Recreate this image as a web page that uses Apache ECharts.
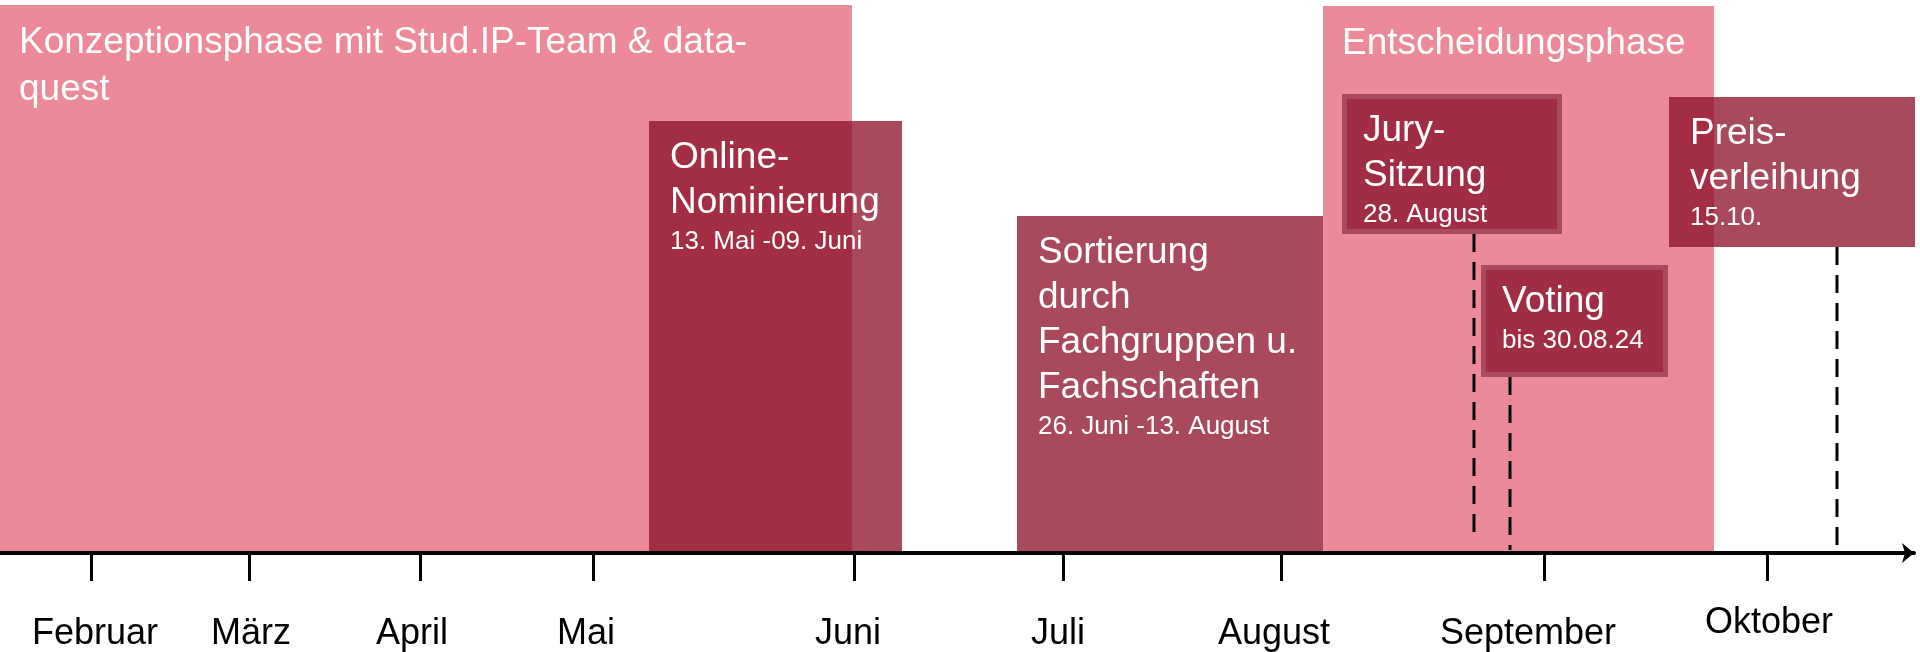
<!DOCTYPE html>
<html>
<head>
<meta charset="utf-8">
<script src="https://cdn.jsdelivr.net/npm/echarts@6/dist/echarts.min.js"></script>
<style>
  html, body { margin: 0; padding: 0; background: #fff; }
  #chart-container { width: 1920px; height: 652px; }
</style>
</head>
<body>
<div id="chart-container"></div>
<script>
// Monate auf der Zeitachse (Position der Striche und der Beschriftung)
var monthNames = ['Februar', 'März', 'April', 'Mai', 'Juni', 'Juli', 'August', 'September', 'Oktober'];
var monthTicks = [91, 249, 420, 593, 854, 1063, 1281, 1544, 1767];
var monthLabelPos = [95, 251, 412, 586, 848, 1058, 1274, 1528, 1769];

// Phasen (hellrosa Hintergrund)
var phaseNames = ['Konzeptionsphase mit Stud.IP-Team & data-\nquest', 'Entscheidungsphase'];
var phaseStart = [0, 1323];
var phaseEnd = [852, 1714];
var phaseTop = [548, 547];

// Einzelne Schritte
var stepTitles = ['Online-\nNominierung', 'Sortierung\ndurch\nFachgruppen u.\nFachschaften', 'Jury-\nSitzung', 'Voting', 'Preis-\nverleihung'];
var stepDates = ['13. Mai -09. Juni', '26. Juni -13. August', '28. August', 'bis 30.08.24', '15.10.'];
var stepStart = [649, 1017, 1342, 1481, 1669];
var stepEnd = [902, 1323, 1562, 1668, 1915];
var stepTop = [432, 337, 459, 288, 456];
var stepBottom = [0, 0, 319, 176, 306];

// gestrichelte Markierungen
var markerPos = [1474, 1510, 1837];
var markerTop = [319, 176, 306];
var markerBottom = [13, 3, 3];

var dom = document.getElementById('chart-container');
var myChart = echarts.init(dom);

var FONT = 'Liberation Sans, Arial, sans-serif';
var PINK = '#ec8a9a';
var STEP_FILL = 'rgba(139, 14, 38, 0.75)';
var framedSteps = [2, 3]; // Jury und Voting haben einen hellen Rahmen

function richLines(title, date) {
  var s = title.split('\n').map(function (l) {
    return '{t|' + l + '}';
  }).join('\n');
  if (date) {
    s += '\n{s|' + date + '}';
  }
  return s;
}

var richStyle = {
  t: { fontSize: 37, lineHeight: 45, fontFamily: FONT, fill: '#fff', color: '#fff' },
  s: { fontSize: 26, lineHeight: 33, fontFamily: FONT, fill: '#fff', color: '#fff' },
  p: { fontSize: 37, lineHeight: 47, fontFamily: FONT, fill: '#fff', color: '#fff' }
};

function renderPhase(params, api) {
  var p0 = api.coord([api.value(0), api.value(2)]);
  var p1 = api.coord([api.value(1), api.value(3)]);
  var i = params.dataIndex;
  var text = phaseNames[i].split('\n').map(function (l) {
    return '{p|' + l + '}';
  }).join('\n');
  return {
    type: 'group',
    children: [
      {
        type: 'rect',
        shape: { x: p0[0], y: p0[1], width: p1[0] - p0[0], height: p1[1] - p0[1] },
        style: { fill: PINK }
      },
      {
        type: 'text',
        x: p0[0] + 19,
        y: p0[1] + 14,
        style: { text: text, rich: richStyle, fill: '#fff', align: 'left', verticalAlign: 'top' }
      }
    ]
  };
}

function renderStep(params, api) {
  var p0 = api.coord([api.value(0), api.value(2)]);
  var p1 = api.coord([api.value(1), api.value(3)]);
  var i = params.dataIndex;
  var w = p1[0] - p0[0];
  var h = p1[1] - p0[1];
  var children = [];
  if (framedSteps.indexOf(i) >= 0) {
    children.push({
      type: 'rect',
      shape: { x: p0[0], y: p0[1], width: w, height: h },
      style: { fill: '#a94a5d' }
    });
    children.push({
      type: 'rect',
      shape: { x: p0[0] + 5, y: p0[1] + 5, width: w - 10, height: h - 10 },
      style: { fill: '#a12d44' }
    });
  } else {
    children.push({
      type: 'rect',
      shape: { x: p0[0], y: p0[1], width: w, height: h },
      style: { fill: STEP_FILL }
    });
  }
  children.push({
    type: 'text',
    x: p0[0] + 21,
    y: p0[1] + 14,
    style: {
      text: richLines(stepTitles[i], stepDates[i]),
      rich: richStyle,
      fill: '#fff',
      align: 'left',
      verticalAlign: 'top'
    }
  });
  return { type: 'group', children: children };
}

function renderMarker(params, api) {
  var a = api.coord([api.value(0), api.value(1)]);
  var b = api.coord([api.value(0), api.value(2)]);
  return {
    type: 'line',
    shape: { x1: a[0], y1: a[1], x2: b[0], y2: b[1] },
    style: { stroke: '#000', lineWidth: 3, lineDash: [18, 10] }
  };
}

var option = {
  backgroundColor: '#fff',
  animation: false,
  grid: { left: 0, right: 6, top: 0, bottom: 99, outerBoundsMode: 'none' },
  xAxis: {
    type: 'value',
    min: 0,
    max: 1914,
    z: 10,
    splitLine: { show: false },
    axisLine: {
      show: true,
      symbol: ['none', 'arrow'],
      symbolSize: [15, 12],
      lineStyle: { color: '#000', width: 4 }
    },
    axisTick: {
      show: true,
      customValues: monthTicks,
      length: 28,
      lineStyle: { color: '#000', width: 3 }
    },
    axisLabel: {
      show: true,
      customValues: monthLabelPos,
      formatter: function (v) {
        var name = monthNames[monthLabelPos.indexOf(v)];
        // Oktober steht im Original etwas höher
        return name === 'Oktober' ? '{o|' + name + '}' : '{m|' + name + '}';
      },
      rich: {
        m: { fontSize: 36, lineHeight: 36, fontFamily: FONT, color: '#000' },
        o: { fontSize: 36, lineHeight: 14, fontFamily: FONT, color: '#000' }
      },
      color: '#000',
      fontSize: 36,
      fontFamily: FONT,
      margin: 63
    }
  },
  yAxis: {
    type: 'value',
    min: 0,
    max: 553,
    show: false
  },
  series: [
    {
      type: 'custom',
      renderItem: renderPhase,
      data: phaseStart.map(function (s, i) {
        return [s, phaseEnd[i], phaseTop[i], 0];
      }),
      z: 1
    },
    {
      type: 'custom',
      renderItem: renderMarker,
      data: markerPos.map(function (x, i) {
        return [x, markerTop[i], markerBottom[i]];
      }),
      z: 2
    },
    {
      type: 'custom',
      renderItem: renderStep,
      data: stepStart.map(function (s, i) {
        return [s, stepEnd[i], stepTop[i], stepBottom[i]];
      }),
      z: 3
    }
  ]
};

myChart.setOption(option);
window.addEventListener('resize', myChart.resize);
</script>
</body>
</html>
